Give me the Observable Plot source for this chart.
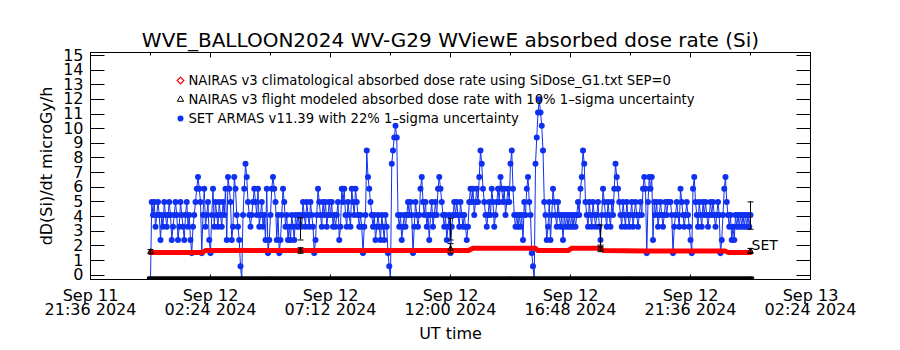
<!DOCTYPE html>
<html><head><meta charset="utf-8">
<script src="https://cdn.jsdelivr.net/npm/d3@7"></script>
<script src="https://cdn.jsdelivr.net/npm/@observablehq/plot@0.6"></script>
<style>html,body{margin:0;padding:0;background:#fff;} #chart svg{display:block;}</style>
</head><body><div id="chart"></div>
<script>
// ---- text ----
const titleText = "WVE_BALLOON2024 WV-G29 WViewE absorbed dose rate (Si)";
const yLabelText = "dD(Si)/dt microGy/h";
const xLabelText = "UT time";
const legendLabels = [
  "NAIRAS v3 climatological absorbed dose rate using SiDose_G1.txt SEP=0",
  "NAIRAS v3 flight modeled absorbed dose rate with 10% 1\u2013sigma uncertainty",
  "SET ARMAS v11.39 with 22% 1\u2013sigma uncertainty"
];
const endLabel = "SET";

// ---- axes ----
const xDomain = ["2024-09-11T21:36:00Z", "2024-09-13T02:24:00Z"];
const xTicks = ["2024-09-11T21:36:00Z","2024-09-12T02:24:00Z","2024-09-12T07:12:00Z","2024-09-12T12:00:00Z","2024-09-12T16:48:00Z","2024-09-12T21:36:00Z","2024-09-13T02:24:00Z"];
const xMinorTicks = ["2024-09-12T00:00:00Z","2024-09-12T04:48:00Z","2024-09-12T09:36:00Z","2024-09-12T14:24:00Z","2024-09-12T19:12:00Z","2024-09-13T00:00:00Z"];
const yDomain = [-0.3, 15.2];
const yTicks = [0,1,2,3,4,5,6,7,8,9,10,11,12,13,14,15];

// ---- data ----
const flightStart = "2024-09-12T00:00:00Z";
const armasStepMinutes = 3;
const armasValues = [
 -0.3,5.0,4.1,5.0,3.3,4.1,5.0,4.1,
 2.4,4.1,3.3,5.0,4.1,3.3,4.1,5.0,
 4.1,2.4,3.3,4.1,5.0,4.1,2.4,3.3,
 5.0,4.1,3.3,2.4,4.1,5.0,3.3,4.1,
 2.4,1.5,3.3,4.1,5.0,5.9,6.7,5.9,
 5.0,1.5,4.1,5.9,3.3,4.1,5.0,2.4,
 1.5,4.1,5.9,3.3,5.0,4.1,3.3,5.0,
 4.1,3.3,5.0,4.1,5.9,2.4,6.7,5.9,
 5.0,2.4,3.3,6.7,5.9,4.1,3.3,2.4,
 0.6,-0.3,4.1,5.9,7.6,6.7,5.0,4.1,
 3.3,4.1,5.0,5.9,5.0,4.1,5.9,3.3,
 4.1,5.0,3.3,4.1,2.4,5.9,1.5,2.4,
 4.1,5.9,6.7,5.9,5.0,2.4,4.1,1.5,
 2.4,4.1,5.9,5.0,3.3,4.1,2.4,3.3,
 2.4,4.1,3.3,2.4,4.1,3.3,4.1,3.3,
 4.1,3.3,5.0,4.1,3.3,5.0,4.1,3.3,
 5.0,4.1,3.3,1.5,2.4,4.1,5.9,5.0,
 4.1,3.3,5.0,4.1,5.0,3.3,4.1,5.0,
 4.1,5.0,3.3,4.1,3.3,4.1,5.0,2.4,
 3.3,5.9,5.0,5.9,4.1,3.3,5.0,4.1,
 3.3,5.9,5.0,4.1,5.9,5.0,4.1,3.3,
 4.1,3.3,1.5,3.3,4.1,8.5,6.7,5.9,
 5.0,4.1,3.3,4.1,2.4,3.3,4.1,3.3,
 2.4,4.1,3.3,2.4,4.1,3.3,1.5,0.6,
 -0.3,7.6,8.5,9.4,10.2,9.4,4.1,3.3,
 4.1,2.4,3.3,4.1,3.3,4.1,5.0,4.1,
 5.0,4.1,1.5,3.3,5.0,4.1,3.3,4.1,
 5.9,6.7,5.0,4.1,5.0,3.3,4.1,2.4,
 4.1,5.0,3.3,4.1,5.0,4.1,5.9,6.7,
 5.9,5.0,4.1,3.3,4.1,2.4,3.3,4.1,
 1.5,3.3,4.1,5.0,4.1,5.0,4.1,3.3,
 5.0,4.1,3.3,4.1,3.3,2.4,3.3,5.0,
 5.9,5.0,5.9,4.1,5.0,5.9,5.0,6.7,
 8.5,7.6,5.9,5.0,4.1,3.3,4.1,5.0,
 4.1,5.9,5.0,3.3,4.1,5.0,5.9,5.0,
 6.7,5.9,5.0,5.9,4.1,5.0,5.9,5.0,
 7.6,8.5,5.9,4.1,3.3,4.1,3.3,4.1,
 3.3,4.1,2.4,5.0,4.1,5.9,6.7,5.0,
 4.1,1.5,0.6,-0.3,7.6,9.4,11.1,12.0,
 11.1,10.2,8.5,5.0,4.1,2.4,3.3,5.0,
 2.4,4.1,5.9,5.0,4.1,3.3,5.0,4.1,
 3.3,4.1,2.4,4.1,3.3,4.1,3.3,4.1,
 3.3,4.1,3.3,4.1,3.3,4.1,5.0,4.1,
 5.9,6.7,8.5,7.6,5.0,4.1,3.3,5.0,
 4.1,3.3,5.0,4.1,3.3,4.1,5.0,3.3,
 2.4,4.1,5.9,5.0,4.1,3.3,5.0,4.1,
 3.3,5.0,4.1,5.9,7.6,6.7,5.9,5.0,
 4.1,3.3,5.0,4.1,3.3,5.0,4.1,3.3,
 4.1,5.0,3.3,4.1,5.0,4.1,3.3,4.1,
 5.0,4.1,5.9,6.7,5.9,1.5,5.0,6.7,
 5.9,6.7,2.4,5.0,4.1,5.0,3.3,4.1,
 5.0,4.1,3.3,4.1,5.0,4.1,5.0,5.0,
 5.0,4.1,1.5,3.3,4.1,5.0,4.1,3.3,
 5.9,5.0,4.1,3.3,4.1,5.0,4.1,3.3,
 2.4,1.5,5.9,6.7,5.0,4.1,3.3,5.0,
 4.1,3.3,5.0,4.1,5.0,4.1,3.3,4.1,
 5.0,4.1,5.0,4.1,3.3,4.1,5.0,4.1,
 1.5,2.4,4.1,5.9,6.7,5.0,4.1,3.3,
 4.1,2.4,3.3,2.4,4.1,3.3,4.1,3.3,
 4.1,3.3,4.1,3.3,4.1,3.3,4.1,3.3,
 4.1
];
// NAIRAS climatological (hours after flightStart)
const climHours  = [0, 2.08, 2.2, 12.72, 12.9, 15.4, 15.5, 16.72, 16.84, 18.0, 18.12, 19.8, 23.0, 23.1, 24.0];
const climValues = [1.55, 1.55, 1.68, 1.68, 1.83, 1.83, 1.68, 1.68, 1.83, 1.83, 1.68, 1.64, 1.64, 1.55, 1.55];
// NAIRAS flight modeled, with 10% bars
const flightHours  = [0, 6, 12, 18, 24];
const flightValues = [1.6, 1.68, 1.8, 1.8, 1.65];
const flightLow    = [1.45, 1.49, 1.49, 1.6, 1.48];
const flightHigh   = [1.75, 1.87, 2.15, 2.05, 1.82];
const flightBaseHours  = [-0.08, 24.08];
const flightBaseValues = [-0.2, -0.2];
// ARMAS 22% bars
const armasErrHours = [6, 12, 18, 24];
const armasErrLow   = [2.4, 2.4, 1.94, 3.13];
const armasErrHigh  = [3.9, 3.88, 3.42, 5.0];

// ---- build ----
const t0 = Date.parse(flightStart);
const hr = h => new Date(t0 + h * 3600e3);
const armas = armasValues.map((v, i) => ({t: new Date(t0 + i * armasStepMinutes * 60e3), v}));
const clim = climHours.map((h, i) => ({t: hr(h), v: climValues[i]}));
const flight = flightHours.map((h, i) => ({t: hr(h), v: flightValues[i], lo: flightLow[i], hi: flightHigh[i]}));
const flightBase = flightBaseHours.map((h, i) => ({t: hr(h), v: flightBaseValues[i]}));
const armasErr = armasErrHours.map((h, i) => ({t: hr(h), lo: armasErrLow[i], hi: armasErrHigh[i]}));
const bars = [...flight.map(d => ({t: d.t, lo: d.lo, hi: d.hi})), ...armasErr];
const caps = bars.flatMap(d => [{t: d.t, v: d.lo}, {t: d.t, v: d.hi}]);
const capSymbol = {draw(ctx, size) { const r = Math.sqrt(size / Math.PI); ctx.moveTo(-r, 0); ctx.lineTo(r, 0); }};
const BLUE = "#1030f0", RED = "#ff0000";
const FONT = "DejaVu Sans";
const fmtTop = d3.utcFormat("%b %d"), fmtBot = d3.utcFormat("%H:%M %Y");

const chart = Plot.plot({
  width: 900, height: 350,
  marginLeft: 90, marginRight: 90, marginTop: 52, marginBottom: 71,
  style: {fontFamily: FONT, background: "white", color: "black", overflow: "visible"},
  x: {type: "utc", domain: xDomain.map(d => new Date(d))},
  y: {domain: yDomain},
  marks: [
    Plot.line(armas, {x: "t", y: "v", stroke: BLUE, strokeWidth: 1, clip: true}),
    Plot.dot(armas, {x: "t", y: "v", fill: BLUE, r: 3, clip: true}),
    Plot.line(clim, {x: "t", y: "v", stroke: RED, strokeWidth: 5, clip: true}),
    Plot.ruleX(bars, {x: "t", y1: "lo", y2: "hi", stroke: "black", strokeWidth: 1}),
    Plot.dot(caps, {x: "t", y: "v", symbol: capSymbol, r: 3, stroke: "black", strokeWidth: 1, fill: "none"}),
    Plot.dot(flight, {x: "t", y: "v", symbol: "triangle2", r: 2.5, stroke: "black", fill: "none", strokeWidth: 1}),
    Plot.line(flightBase, {x: "t", y: "v", stroke: "black", strokeWidth: 3.5, clip: true}),
    Plot.frame({stroke: "black"}),
    Plot.text([clim[clim.length - 1]], {x: "t", y: "v", text: () => endLabel, textAnchor: "start", dx: 1, dy: -7, fontSize: 14, fill: "black"}),
    Plot.axisX({ticks: xTicks.map(d => new Date(d)), tickSize: 0, tickPadding: 11, label: null, fontSize: 16, lineHeight: 0.9,
      tickFormat: d => fmtTop(d) + "\n" + fmtBot(d)}),
    Plot.axisY({ticks: yTicks, tickSize: 0, tickPadding: 7, label: null, fontSize: 16, tickFormat: d => String(d)}),
    Plot.text([titleText], {frameAnchor: "top", dy: -6, lineAnchor: "bottom", fontSize: 20, fill: "black"}),
    Plot.text([yLabelText], {frameAnchor: "left", textAnchor: "middle", rotate: -90, dx: -44, lineAnchor: "middle", fontSize: 16, fill: "black"}),
    Plot.text([xLabelText], {frameAnchor: "bottom", dy: 59, lineAnchor: "bottom", fontSize: 16, fill: "black"}),
    Plot.text([legendLabels[0]], {frameAnchor: "top-left", dx: 98, dy: 28, lineAnchor: "middle", textAnchor: "start", fontSize: 13.2, fill: "black"}),
    Plot.text([legendLabels[1]], {frameAnchor: "top-left", dx: 98, dy: 47, lineAnchor: "middle", textAnchor: "start", fontSize: 13.2, fill: "black"}),
    Plot.text([legendLabels[2]], {frameAnchor: "top-left", dx: 98, dy: 66, lineAnchor: "middle", textAnchor: "start", fontSize: 13.2, fill: "black"}),
    Plot.dot([0], {frameAnchor: "top-left", dx: 90, dy: 28, symbol: "diamond2", r: 3, stroke: RED, fill: "none", strokeWidth: 1.2}),
    Plot.dot([0], {frameAnchor: "top-left", dx: 90, dy: 47, symbol: "triangle2", r: 3, stroke: "black", fill: "none", strokeWidth: 1}),
    Plot.dot([0], {frameAnchor: "top-left", dx: 90, dy: 66, symbol: "circle", r: 3, fill: BLUE})
  ]
});

// inward ticks on all four sides, placed with the plot's own scales
const sx = chart.scale("x"), sy = chart.scale("y");
const [xl, xr] = sx.range, [yb, yt] = sy.range;
const g = d3.select(chart).append("g").attr("stroke", "black").attr("stroke-width", 1).attr("transform", "translate(0.5,0.5)");
function vt(list, len) {
  for (const d of list) {
    const X = Math.round(sx.apply(new Date(d)));
    g.append("line").attr("x1", X).attr("x2", X).attr("y1", yb).attr("y2", yb - len);
    g.append("line").attr("x1", X).attr("x2", X).attr("y1", yt).attr("y2", yt + len);
  }
}
vt(xTicks, 5); vt(xMinorTicks, 3);
for (const v of yTicks) {
  const Y = Math.round(sy.apply(v));
  g.append("line").attr("x1", xl).attr("x2", xl + 14).attr("y1", Y).attr("y2", Y);
  g.append("line").attr("x1", xr).attr("x2", xr - 14).attr("y1", Y).attr("y2", Y);
}
document.getElementById("chart").appendChild(chart);
</script>
</body></html>
